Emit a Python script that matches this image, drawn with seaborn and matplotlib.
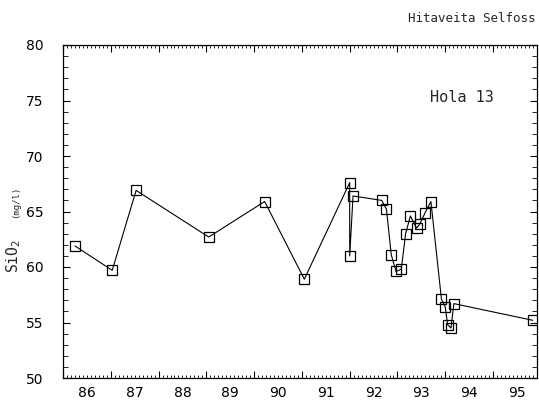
import numpy as np
import pandas as pd
import matplotlib
matplotlib.use("Agg")
import matplotlib.pyplot as plt
from matplotlib.ticker import MultipleLocator, FuncFormatter
import seaborn as sns

# Sampling dates (decimal years) and silica concentration, SiO2 in mg/l
dates = [1986.25, 1987.03, 1987.53, 1989.05, 1990.22, 1991.05,
         1992.00, 1992.00, 1992.07, 1992.67, 1992.77, 1992.87,
         1992.97, 1993.08, 1993.17, 1993.27, 1993.40, 1993.47,
         1993.58, 1993.70, 1993.92, 1994.00, 1994.05, 1994.12,
         1994.18, 1995.83]
sio2 = [61.9, 59.7, 66.9, 62.7, 65.9, 58.9,
        67.6, 61.0, 66.4, 66.0, 65.2, 61.1,
        59.6, 59.8, 63.0, 64.6, 63.5, 63.9,
        64.9, 65.9, 57.1, 56.4, 54.8, 54.5,
        56.7, 55.2]
years = list(range(1986, 1996))
year_labels = [str(y % 100) for y in years]

df = pd.DataFrame({"date": dates, "sio2": sio2})

sns.set_style("ticks")
plt.rcParams["font.family"] = ["DejaVu Sans"]

fig = plt.figure(figsize=(5.39, 4.03), dpi=100)
ax = fig.add_axes([63 / 539, 1 - 378 / 403, (537 - 63) / 539, (378 - 45) / 403])

sns.lineplot(data=df, x="date", y="sio2", sort=False, estimator=None,
             errorbar=None, ax=ax,
             color="black", linewidth=0.8, marker="s", markersize=7.8,
             markerfacecolor="none", markeredgecolor="black",
             markeredgewidth=0.9)

ax.set_xlim(1986, 1995.92)
ax.set_ylim(50, 80)

# x: year boundaries as major ticks, months as minor ticks; labels mid-year
ax.xaxis.set_major_locator(MultipleLocator(1))
ax.xaxis.set_major_formatter(FuncFormatter(lambda v, p: ""))
ax.xaxis.set_minor_locator(MultipleLocator(1 / 12))

label_map = {y: lab for y, lab in zip(years, year_labels)}


def mid_year(v, pos):
    frac = v - np.floor(v)
    if abs(frac - 0.5) < 1e-3:
        return label_map.get(int(np.floor(v)), "")
    return ""


ax.xaxis.set_minor_formatter(FuncFormatter(mid_year))

ax.yaxis.set_major_locator(MultipleLocator(5))
ax.yaxis.set_minor_locator(MultipleLocator(1))

ax.tick_params(axis="both", which="both", direction="in",
               top=True, right=True, colors="black", labelsize=10)
ax.tick_params(axis="x", which="major", length=5, width=0.8)
ax.tick_params(axis="x", which="minor", length=2.5, width=0.6, pad=6)
ax.tick_params(axis="y", which="major", length=5, width=0.8, pad=14)
ax.tick_params(axis="y", which="minor", length=3.5, width=0.6)

for s in ax.spines.values():
    s.set_linewidth(0.9)
    s.set_color("black")

ax.set_xlabel("")
ax.set_ylabel("")

fig.text(14 / 539, 1 - 256 / 403, "SiO$_2$", rotation=90,
         ha="center", va="center", fontsize=10.5, family="DejaVu Sans Mono")
fig.text(16 / 539, 1 - 202 / 403, "(mg/l)", rotation=90,
         ha="center", va="center", fontsize=6.5, family="DejaVu Sans Mono")

fig.text(535 / 539, 1 - 18 / 403, "Hitaveita Selfoss", ha="right",
         va="center", fontsize=9, family="DejaVu Sans Mono")
ax.text(1993.68, 75.3, "Hola 13", ha="left", va="center",
        fontsize=11, family="DejaVu Sans Mono")

fig.savefig("out.png", dpi=100)
